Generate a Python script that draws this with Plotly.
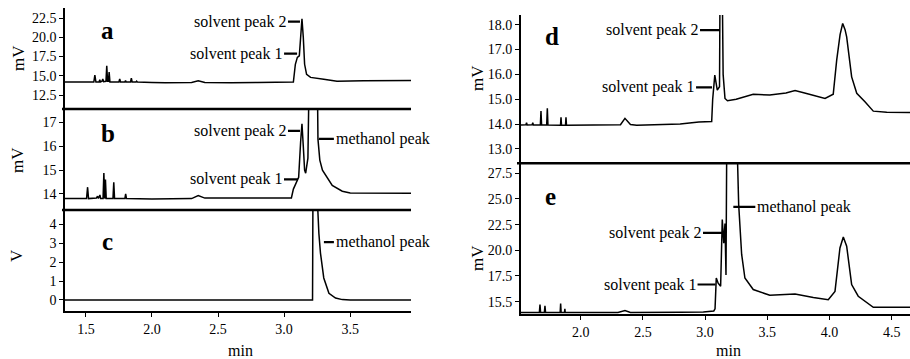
import plotly.graph_objects as go

# ---------------- data ----------------
a_time = [1.342, 1.56, 1.568, 1.576, 1.60, 1.605, 1.61, 1.622, 1.628, 1.634, 1.652, 1.658, 1.664, 1.671, 1.676,
          1.682, 1.75, 1.756, 1.762, 1.795, 1.80, 1.805, 1.838, 1.844, 1.85, 1.88, 1.884, 1.89, 2.0, 2.1, 2.3,
          2.35, 2.4, 2.6, 2.8, 3.0, 3.07, 3.085, 3.10, 3.115, 3.125, 3.135, 3.145, 3.155, 3.17, 3.2, 3.3, 3.4,
          3.6, 3.96]
a_signal = [14.2, 14.2, 15.1, 14.2, 14.2, 14.5, 14.2, 14.3, 14.6, 14.25, 14.3, 16.3, 14.3, 14.3, 15.5,
            14.2, 14.2, 14.6, 14.2, 14.2, 14.4, 14.2, 14.2, 14.7, 14.2, 14.2, 14.3, 14.2, 14.15, 14.1, 14.15,
            14.35, 14.15, 14.1, 14.15, 14.15, 14.2, 16.5, 17.4, 17.6, 20.0, 22.4, 20.0, 16.5, 15.2, 14.8, 14.55, 14.3,
            14.35, 14.4]

b_time = [1.342, 1.505, 1.513, 1.52, 1.58, 1.588, 1.595, 1.60, 1.606, 1.612, 1.63, 1.636, 1.642, 1.645, 1.648,
          1.654, 1.705, 1.711, 1.717, 1.795, 1.801, 1.807, 2.0, 2.2, 2.30, 2.35, 2.40, 2.6, 2.9, 3.055, 3.07,
          3.10, 3.11, 3.125, 3.135, 3.145, 3.155, 3.163, 3.18, 3.188, 3.252, 3.256, 3.27, 3.29, 3.313, 3.364,
          3.44, 3.50, 3.96]
b_signal = [13.8, 13.8, 14.28, 13.8, 13.82, 13.9, 13.8, 13.85, 13.95, 13.8, 13.8, 14.88, 13.8, 13.85, 14.6,
            13.8, 13.8, 14.49, 13.8, 13.8, 14.0, 13.8, 13.78, 13.79, 13.8, 13.93, 13.82, 13.83, 13.83, 13.83, 14.2,
            14.55, 14.7, 16.2, 16.95, 16.0, 15.0, 14.87, 15.5, 18.5, 18.5, 16.3, 15.42, 15.0, 14.78, 14.35,
            14.11, 14.04, 14.03]

c_time = [1.342, 3.215, 3.218, 3.25, 3.263, 3.275, 3.30, 3.339, 3.389, 3.44, 3.5, 3.96]
c_signal = [0, 0, 5.5, 5.5, 3.5, 2.47, 1.16, 0.35, 0.1, 0.02, 0, 0]

d_time = [1.518, 1.56, 1.565, 1.57, 1.61, 1.615, 1.62, 1.676, 1.681, 1.686, 1.727, 1.732, 1.737, 1.838, 1.842,
          1.846, 1.878, 1.882, 1.886, 2.0, 2.2, 2.32, 2.356, 2.40, 2.45, 2.6, 2.8, 2.95, 3.053, 3.061, 3.078,
          3.098, 3.116, 3.12, 3.138, 3.145, 3.16, 3.18, 3.25, 3.387, 3.52, 3.65, 3.723, 3.80, 3.87, 3.964, 4.03,
          4.058, 4.085, 4.106, 4.125, 4.138, 4.178, 4.219, 4.285, 4.352, 4.46, 4.647]
d_signal = [13.96, 13.97, 14.05, 13.96, 13.97, 14.05, 13.96, 13.97, 14.52, 13.96, 13.97, 14.63, 13.96, 13.95, 14.27,
            13.95, 13.95, 14.27, 13.95, 13.95, 13.95, 13.97, 14.23, 13.98, 13.95, 13.97, 14.0, 14.08, 14.1, 15.0, 15.97,
            15.37, 15.5, 19.5, 19.5, 16.0, 15.03, 14.94, 15.0, 15.2, 15.17, 15.25, 15.35, 15.25, 15.15, 15.03, 15.2,
            16.58, 17.6, 18.05, 17.8, 17.51, 15.9, 15.24, 14.9, 14.52, 14.48, 14.46]

e_time = [1.518, 1.668, 1.673, 1.678, 1.708, 1.713, 1.718, 1.835, 1.839, 1.843, 1.87, 1.873, 1.876, 2.0, 2.3,
          2.356, 2.40, 2.8, 2.986, 3.07, 3.08, 3.09, 3.105, 3.125, 3.138, 3.15, 3.16, 3.168, 3.174, 3.258, 3.27,
          3.294, 3.32, 3.387, 3.52, 3.723, 3.87, 3.99, 4.044, 4.084, 4.111, 4.138, 4.178, 4.231, 4.352, 4.647]
e_signal = [13.95, 13.95, 14.72, 13.95, 13.95, 14.6, 13.95, 13.95, 14.82, 13.95, 13.95, 14.3, 13.95, 13.95, 13.95,
            14.13, 13.95, 13.97, 14.0, 14.1, 14.3, 17.3, 16.8, 16.5, 23.0, 20.7, 22.6, 17.6, 30.0, 30.0, 24.45,
            19.6, 17.3, 16.18, 15.62, 15.75, 15.4, 15.2, 16.0, 20.23, 21.3, 20.4, 16.67, 15.53, 14.45, 14.45]

left_xticks = [1.5, 2.0, 2.5, 3.0, 3.5]
left_xtick_labels = ["1.5", "2.0", "2.5", "3.0", "3.5"]
right_xticks = [2.0, 2.5, 3.0, 3.5, 4.0, 4.5]
right_xtick_labels = ["2.0", "2.5", "3.0", "3.5", "4.0", "4.5"]
a_yticks = [12.5, 15.0, 17.5, 20.0, 22.5]
a_ytick_labels = ["12.5", "15.0", "17.5", "20.0", "22.5"]
b_yticks = [14, 15, 16, 17]
b_ytick_labels = ["14", "15", "16", "17"]
c_yticks = [0, 1, 2, 3, 4]
c_ytick_labels = ["0", "1", "2", "3", "4"]
d_yticks = [13.0, 14.0, 15.0, 16.0, 17.0, 18.0]
d_ytick_labels = ["13.0", "14.0", "15.0", "16.0", "17.0", "18.0"]
e_yticks = [15.0, 17.5, 20.0, 22.5, 25.0, 27.5]
e_ytick_labels = ["15.5", "17.5", "20.0", "22.5", "25.0", "27.5"]

panel_names = ["a", "b", "c", "d", "e"]
y_units = ["mV", "mV", "V", "mV", "mV"]

# peak labels: (panel, text, time, value, side)
peak_labels = [
    ("a", "solvent peak 2", 3.120, 22.03, "left"),
    ("a", "solvent peak 1", 3.098, 17.89, "left"),
    ("b", "solvent peak 2", 3.120, 16.65, "left"),
    ("b", "solvent peak 1", 3.105, 14.61, "left"),
    ("b", "methanol peak", 3.263, 16.31, "right"),
    ("c", "methanol peak", 3.301, 3.05, "right"),
    ("d", "solvent peak 2", 3.120, 17.78, "left"),
    ("d", "solvent peak 1", 3.056, 15.48, "left"),
    ("e", "methanol peak", 3.227, 24.22, "right"),
    ("e", "solvent peak 2", 3.144, 21.69, "left"),
    ("e", "solvent peak 1", 3.084, 16.67, "left"),
]

# ---------------- layout ----------------
W, H = 910, 359
FONT = "Liberation Serif, Times New Roman, Times, serif"

def py(p):
    return 1 - p / H

left_dom = [65 / W, 411 / W]
right_dom = [520.7 / W, 1.0]
doms = {
    "a": (left_dom, [py(109), py(8)]),
    "b": (left_dom, [py(210), py(109)]),
    "c": (left_dom, [py(311), py(210)]),
    "d": (right_dom, [py(163.3), py(15)]),
    "e": (right_dom, [py(314), py(163.3)]),
}
yranges = {"a": [10.7, 23.8], "b": [13.32, 17.57], "c": [-0.58, 4.74],
           "d": [12.42, 18.39], "e": [13.8, 28.47]}
xranges = {"a": [1.342, 3.96], "b": [1.342, 3.96], "c": [1.342, 3.96],
           "d": [1.518, 4.647], "e": [1.518, 4.647]}
yt = {"a": (a_yticks, a_ytick_labels), "b": (b_yticks, b_ytick_labels), "c": (c_yticks, c_ytick_labels),
      "d": (d_yticks, d_ytick_labels), "e": (e_yticks, e_ytick_labels)}
data = {"a": (a_time, a_signal), "b": (b_time, b_signal), "c": (c_time, c_signal),
        "d": (d_time, d_signal), "e": (e_time, e_signal)}

fig = go.Figure()
layout = dict(width=W, height=H, margin=dict(l=0, r=0, t=0, b=0), paper_bgcolor="white",
              plot_bgcolor="white", showlegend=False, font=dict(family=FONT, size=14, color="black"))

for i, p in enumerate(panel_names, start=1):
    sx = "" if i == 1 else str(i)
    t, s = data[p]
    fig.add_trace(go.Scatter(x=t, y=s, mode="lines", line=dict(color="black", width=1.5),
                             xaxis="x" + sx, yaxis="y" + sx, hoverinfo="skip"))
    xd, yd = doms[p]
    show_x = p in ("c", "e")
    if p == "c":
        tv, tt = left_xticks, left_xtick_labels
    elif p == "e":
        tv, tt = right_xticks, right_xtick_labels
    else:
        tv, tt = [], []
    layout["xaxis" + sx] = dict(domain=xd, range=xranges[p], anchor="y" + sx, showgrid=False, zeroline=False,
                                showline=show_x, linecolor="black", linewidth=2,
                                ticks="outside" if show_x else "", ticklen=4, tickwidth=1.2, tickcolor="black",
                                tickvals=tv, ticktext=tt, showticklabels=show_x,
                                tickfont=dict(family=FONT, size=14))
    yv, ytxt = yt[p]
    layout["yaxis" + sx] = dict(domain=yd, range=yranges[p], anchor="x" + sx, showgrid=False, zeroline=False,
                                showline=True, linecolor="black", linewidth=1.5, ticks="outside", ticklen=4,
                                tickwidth=1.2, tickcolor="black", tickvals=yv, ticktext=ytxt,
                                tickfont=dict(family=FONT, size=14))

annotations = []
# panel letters
letter_pos = {"a": (107.3, 30.7), "b": (108.3, 133.3), "c": (107.3, 241.7), "d": (551.7, 36.7), "e": (550, 196.7)}
for p, (xp, ypp) in letter_pos.items():
    annotations.append(dict(x=xp / W, y=py(ypp), xref="paper", yref="paper", text="<b>%s</b>" % p,
                            showarrow=False, font=dict(family=FONT, size=25, color="black"),
                            xanchor="center", yanchor="middle"))
# y unit titles
unit_pos = {"a": (18, 58), "b": (18, 160), "c": (16, 256), "d": (477, 78), "e": (477, 258)}
for p, unit in zip(panel_names, y_units):
    xp, ypp = unit_pos[p]
    annotations.append(dict(x=xp / W, y=py(ypp), xref="paper", yref="paper", text=unit, textangle=-90,
                            showarrow=False, font=dict(family=FONT, size=17, color="black"),
                            xanchor="center", yanchor="middle"))
# x titles
for xp in (240, 728):
    annotations.append(dict(x=xp / W, y=py(350), xref="paper", yref="paper", text="min", showarrow=False,
                            font=dict(family=FONT, size=16, color="black"), xanchor="center", yanchor="middle"))
# peak labels
offsets = {("a", "solvent peak 2"): 12, ("a", "solvent peak 1"): 13, ("b", "solvent peak 2"): 12,
           ("b", "solvent peak 1"): 14, ("b", "methanol peak"): 15, ("c", "methanol peak"): 10,
           ("d", "solvent peak 2"): 20, ("d", "solvent peak 1"): 16, ("e", "methanol peak"): 22,
           ("e", "solvent peak 2"): 20, ("e", "solvent peak 1"): 18}
for p, txt, tx, vy, side in peak_labels:
    i = panel_names.index(p) + 1
    sx = "" if i == 1 else str(i)
    off = offsets[(p, txt)]
    annotations.append(dict(x=tx, y=vy, xref="x" + sx, yref="y" + sx, text=txt, showarrow=True,
                            arrowhead=0, arrowwidth=2.2, arrowcolor="black", standoff=0,
                            ax=-off if side == "left" else off, ay=0,
                            xanchor="right" if side == "left" else "left", yanchor="middle",
                            borderpad=1, font=dict(family=FONT, size=16, color="black")))
layout["annotations"] = annotations

# separator lines between stacked panels
shapes = []
for yy, x0, x1 in [(109, 62, 411), (210, 62, 411), (163.3, 517, 910)]:
    shapes.append(dict(type="line", xref="paper", yref="paper", x0=x0 / W, x1=x1 / W, y0=py(yy), y1=py(yy),
                       line=dict(color="black", width=2.5)))
layout["shapes"] = shapes

fig.update_layout(**layout)
fig.write_html("out.html", config={"displayModeBar": False},
               post_script="document.body.style.margin='0';document.body.style.overflow='hidden';")
